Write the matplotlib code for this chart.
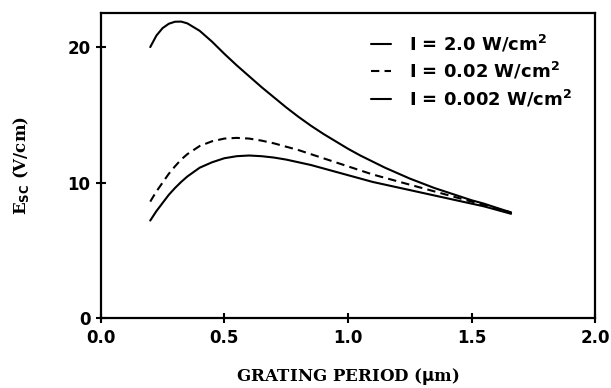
import matplotlib
matplotlib.use("Agg")
import matplotlib.pyplot as plt

period = [0.20, 0.225, 0.25, 0.275, 0.30, 0.325, 0.35, 0.40, 0.45, 0.50, 0.55,
          0.60, 0.65, 0.70, 0.75, 0.80, 0.85, 0.90, 0.95, 1.00, 1.05, 1.10,
          1.15, 1.20, 1.25, 1.30, 1.35, 1.40, 1.45, 1.50, 1.55, 1.60, 1.66]
esc_2 = [20.0, 20.85, 21.4, 21.72, 21.87, 21.88, 21.75, 21.2, 20.4, 19.5, 18.65,
         17.85, 17.05, 16.3, 15.55, 14.85, 14.2, 13.6, 13.05, 12.5, 12.0, 11.55,
         11.1, 10.7, 10.3, 9.95, 9.6, 9.3, 9.0, 8.7, 8.45, 8.15, 7.8]
esc_002 = [8.6, 9.35, 10.0, 10.65, 11.2, 11.7, 12.1, 12.7, 13.05, 13.25, 13.3,
           13.25, 13.1, 12.9, 12.65, 12.4, 12.1, 11.8, 11.5, 11.2, 10.9, 10.6,
           10.35, 10.1, 9.85, 9.6, 9.35, 9.1, 8.85, 8.6, 8.35, 8.1, 7.8]
esc_0002 = [7.2, 7.9, 8.5, 9.1, 9.6, 10.05, 10.45, 11.1, 11.5, 11.8, 11.95,
            12.0, 11.95, 11.85, 11.7, 11.5, 11.3, 11.05, 10.8, 10.55, 10.3, 10.05,
            9.85, 9.65, 9.45, 9.25, 9.05, 8.85, 8.65, 8.45, 8.25, 8.0, 7.7]
labels = ["I = 2.0 W/cm$^2$", "I = 0.02 W/cm$^2$", "I = 0.002 W/cm$^2$"]
xticks = [0.0, 0.5, 1.0, 1.5, 2.0]
yticks = [0, 10, 20]

plt.rcParams['mathtext.fontset'] = 'dejavusans'
plt.rcParams['mathtext.default'] = 'bf'

fig = plt.figure(figsize=(6.11, 3.88), dpi=100)
ax = fig.add_axes([0.165, 0.180, 0.809, 0.786])

lw = 1.5
kw = dict(color='black', lw=lw, solid_joinstyle='round', solid_capstyle='round')
ax.plot(period, esc_2, label=labels[0], **kw)
ax.plot(period, esc_002, linestyle=(0, (4, 2.5)), label=labels[1], **kw)
ax.plot(period, esc_0002, label=labels[2], **kw)

ax.set_xlim(0, 2.0)
ax.set_ylim(0, 22.5)
ax.set_xticks(xticks)
ax.set_xticklabels(["%.1f" % v for v in xticks])
ax.set_yticks(yticks)
ax.set_yticklabels([str(v) for v in yticks])
ax.tick_params(direction='inout', length=7, width=1.5, labelsize=12, pad=4)
for lab in ax.get_xticklabels() + ax.get_yticklabels():
    lab.set_fontweight('bold')
for s in ax.spines.values():
    s.set_linewidth(1.6)

ax.set_xlabel(r"GRATING PERIOD ($\mu$m)", fontfamily='DejaVu Serif',
              fontweight='bold', fontsize=12, labelpad=14)
ax.set_ylabel(r"E$_{\mathbf{SC}}$ (V/cm)", fontfamily='DejaVu Serif',
              fontweight='bold', fontsize=12, labelpad=26)

leg = ax.legend(loc='upper right', frameon=False, handlelength=1.1,
                handletextpad=1.0, labelspacing=0.35,
                prop={'weight': 'bold', 'size': 13},
                bbox_to_anchor=(0.975, 0.97), borderaxespad=0.2)

fig.savefig("out.png", dpi=100)
